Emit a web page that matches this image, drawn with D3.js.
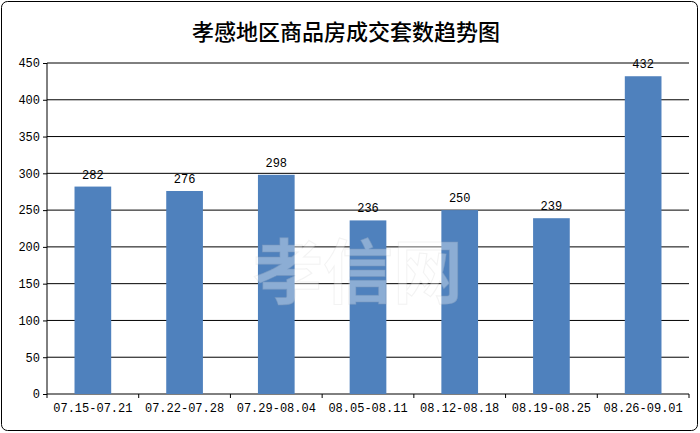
<!DOCTYPE html><html><head><meta charset="utf-8"><script src="https://cdn.jsdelivr.net/npm/d3@7"></script>
<style>body{margin:0;background:#fff}</style></head><body><svg id="c" width="700" height="433"></svg>
<script>
const categories=["07.15-07.21","07.22-07.28","07.29-08.04","08.05-08.11","08.12-08.18","08.19-08.25","08.26-09.01"];
const values=[282,276,298,236,250,239,432];
const yTicks=[0,50,100,150,200,250,300,350,400,450];
const title="孝感地区商品房成交套数趋势图";
const svg=d3.select("#c");
svg.append("rect").attr("x",1.5).attr("y",1.5).attr("width",696).attr("height",429).attr("rx",6).attr("fill","#fff").attr("stroke","#000");
svg.append("text").attr("x",346).attr("y",40).attr("text-anchor","middle").attr("font-family","Noto Sans CJK SC").attr("font-weight","500").attr("font-size",22).text(title);
const L=47,R=689,T=63,B=394;
const x=d3.scaleBand().domain(categories).range([L,R]).paddingInner(0.6).paddingOuter(0.3);
const y=d3.scaleLinear().domain([0,450]).range([B,T]);
const g=svg.append("g");
g.selectAll(".grid").data(yTicks).join("line").attr("x1",L).attr("x2",R).attr("y1",d=>y(d)).attr("y2",d=>y(d)).attr("stroke","#000").attr("stroke-width",1);
g.append("line").attr("x1",L).attr("x2",L).attr("y1",T).attr("y2",B).attr("stroke","#000");
const ya=svg.append("g").attr("transform",`translate(${L},0)`).call(d3.axisLeft(y).tickValues(yTicks).tickSize(4).tickFormat(d3.format("d")));
ya.select(".domain").remove();
ya.selectAll("text").attr("font-family","Liberation Mono").attr("font-size",12).attr("fill","#000");
const xa=svg.append("g").attr("transform",`translate(0,${B})`).call(d3.axisBottom(x).tickSize(0).tickPadding(9));
xa.select(".domain").remove();
xa.selectAll("text").attr("font-family","Liberation Mono").attr("font-size",12).attr("fill","#000");
svg.selectAll(".xt").data(d3.range(categories.length+1)).join("line").attr("x1",i=>L+i*(R-L)/7).attr("x2",i=>L+i*(R-L)/7).attr("y1",B).attr("y2",B+4).attr("stroke","#000");
svg.selectAll(".bar").data(values).join("rect").attr("x",(d,i)=>x(categories[i])).attr("width",x.bandwidth()).attr("y",d=>y(d)).attr("height",d=>B-y(d)).attr("fill","#4f81bd");
svg.selectAll(".lbl").data(values).join("text").attr("x",(d,i)=>x(categories[i])+x.bandwidth()/2).attr("y",d=>y(d)-8).attr("text-anchor","middle").attr("font-family","Liberation Mono").attr("font-size",12).text(d=>d);
svg.append("text").attr("x",358).attr("y",298).attr("text-anchor","middle").attr("font-family","Noto Sans CJK SC").attr("font-weight","bold").attr("font-size",70).attr("fill","#fff").attr("opacity",0.35).attr("stroke","#bbb").attr("stroke-opacity",0.5).text("孝信网");
</script></body></html>
